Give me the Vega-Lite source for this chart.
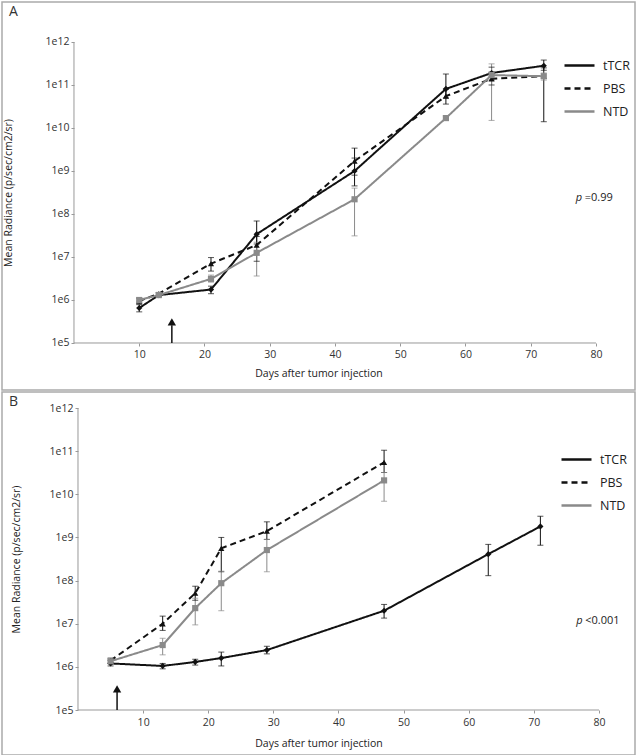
{
  "$schema": "https://vega.github.io/schema/vega-lite/v6.json",
  "padding": {"left": 1, "top": 1, "right": 1, "bottom": 1},
  "spacing": 0,
  "resolve": {
    "scale": {"color": "independent", "strokeDash": "independent", "shape": "independent", "fill": "independent", "stroke": "independent"},
    "legend": {"color": "independent", "strokeDash": "independent", "shape": "independent", "fill": "independent", "stroke": "independent"}
  },
  "config": {
    "font": "Open Sans",
    "view": {"stroke": "#aaaaaa", "strokeWidth": 1.5},
    "axis": {"labelFont": "Open Sans", "titleFont": "Open Sans", "labelFontSize": 10.5, "titleFontSize": 10.5, "titleFontWeight": "normal", "labelColor": "#333333", "titleColor": "#222222", "tickColor": "#999999", "tickSize": 3, "grid": false, "domain": false},
    "legend": {"labelFont": "Open Sans", "labelFontSize": 12.5, "labelColor": "#222222"},
    "title": {"font": "Open Sans", "fontSize": 14, "fontWeight": "normal", "color": "#333333"}
  },
  "vconcat": [
    {
      "width": 633,
      "height": 388,
      "title": {"text": "A", "anchor": "start", "frame": "group", "offset": -17, "dx": 7},
      "data": {"values": [
        {"group": "tTCR", "day": 10, "value": 650000, "lo": 530000, "hi": 780000},
        {"group": "tTCR", "day": 13, "value": 1300000, "lo": 1200000, "hi": 1450000},
        {"group": "tTCR", "day": 21, "value": 1750000, "lo": 1400000, "hi": 2100000},
        {"group": "tTCR", "day": 28, "value": 34000000, "lo": 20000000, "hi": 69000000},
        {"group": "tTCR", "day": 43, "value": 1000000000, "lo": 450000000, "hi": 2000000000},
        {"group": "tTCR", "day": 57, "value": 81000000000, "lo": 50000000000, "hi": 180000000000},
        {"group": "tTCR", "day": 64, "value": 190000000000, "lo": 130000000000, "hi": 260000000000},
        {"group": "tTCR", "day": 72, "value": 280000000000, "lo": 220000000000, "hi": 380000000000},
        {"group": "PBS", "day": 10, "value": 950000, "lo": 820000, "hi": 1100000},
        {"group": "PBS", "day": 13, "value": 1400000, "lo": 1300000, "hi": 1500000},
        {"group": "PBS", "day": 21, "value": 7000000, "lo": 4700000, "hi": 9700000},
        {"group": "PBS", "day": 28, "value": 19000000, "lo": 8000000, "hi": 30000000},
        {"group": "PBS", "day": 43, "value": 1700000000, "lo": 800000000, "hi": 3400000000},
        {"group": "PBS", "day": 57, "value": 55000000000, "lo": 36000000000, "hi": 80000000000},
        {"group": "PBS", "day": 64, "value": 140000000000, "lo": 100000000000, "hi": 200000000000},
        {"group": "PBS", "day": 72, "value": 160000000000, "lo": 14000000000, "hi": 250000000000},
        {"group": "NTD", "day": 10, "value": 1000000, "lo": 900000, "hi": 1100000},
        {"group": "NTD", "day": 13, "value": 1300000, "lo": 1200000, "hi": 1400000},
        {"group": "NTD", "day": 21, "value": 3100000, "lo": 2600000, "hi": 3800000},
        {"group": "NTD", "day": 28, "value": 12500000, "lo": 3600000, "hi": 22000000},
        {"group": "NTD", "day": 43, "value": 220000000, "lo": 31000000, "hi": 400000000},
        {"group": "NTD", "day": 57, "value": 17000000000, "lo": 15000000000, "hi": 19000000000},
        {"group": "NTD", "day": 64, "value": 170000000000, "lo": 15000000000, "hi": 310000000000},
        {"group": "NTD", "day": 72, "value": 160000000000, "lo": 130000000000, "hi": 190000000000}
      ]},
      "encoding": {
        "x": {"field": "day", "type": "quantitative", "scale": {"domain": [-11.03, 85.98], "nice": false, "zero": false},
              "axis": {"offset": -47, "values": [10, 20, 30, 40, 50, 60, 70, 80], "title": "Days after tumor injection", "titlePadding": 9, "labelPadding": 3}},
        "y": {"field": "value", "type": "quantitative", "scale": {"type": "log", "domain": [8072, 8510000000000], "nice": false},
              "axis": {"offset": -72, "values": [100000, 1000000, 10000000, 100000000, 1000000000, 10000000000, 100000000000, 1000000000000], "labelExpr": "'1e' + round(log(datum.value)/LN10)", "title": "Mean Radiance (p/sec/cm2/sr)", "titleX": -61, "titleY": 190.5}}
      },
      "layer": [
        {"data": {"values": [{"day": 0, "day2": 80, "value": 100000}]}, "mark": {"type": "rule", "color": "#999999", "strokeWidth": 1}, "encoding": {"x2": {"field": "day2"}}},
        {"data": {"values": [{"day": 0, "value": 100000, "value2": 1000000000000}]}, "mark": {"type": "rule", "color": "#999999", "strokeWidth": 1}, "encoding": {"y2": {"field": "value2"}}},
        {"mark": {"type": "rule", "strokeWidth": 1},
         "encoding": {
           "y": {"field": "lo", "type": "quantitative", "scale": {"type": "log", "domain": [8072, 8510000000000], "nice": false}, "axis": {"title": "Mean Radiance (p/sec/cm2/sr)"}},
           "y2": {"field": "hi"},
           "stroke": {"field": "group", "type": "nominal", "scale": {"domain": ["NTD", "PBS", "tTCR"], "range": ["#8a8a8a", "#111111", "#111111"]}, "legend": null}}},
        {"transform": [{"fold": ["lo", "hi"], "as": ["end", "v"]}],
         "mark": {"type": "tick", "orient": "horizontal", "size": 6, "thickness": 1},
         "encoding": {
           "y": {"field": "v", "type": "quantitative", "scale": {"type": "log", "domain": [8072, 8510000000000], "nice": false}, "axis": {"title": "Mean Radiance (p/sec/cm2/sr)"}},
           "fill": {"field": "group", "type": "nominal", "scale": {"domain": ["NTD", "PBS", "tTCR"], "range": ["#8a8a8a", "#111111", "#111111"]}, "legend": null}}},
        {"mark": {"type": "line", "strokeWidth": 2},
         "encoding": {
           "color": {"field": "group", "type": "nominal", "scale": {"domain": ["tTCR", "PBS", "NTD"], "range": ["#111111", "#111111", "#8a8a8a"]},
                     "legend": {"orient": "none", "legendX": 561, "legendY": 47, "title": null, "symbolType": "stroke", "symbolSize": 900, "symbolStrokeWidth": 2.5, "rowPadding": -14, "labelOffset": 7}},
           "strokeDash": {"field": "group", "type": "nominal", "scale": {"domain": ["tTCR", "PBS", "NTD"], "range": [[1, 0], [6, 4], [1, 0]]},
                          "legend": {"orient": "none", "legendX": 561, "legendY": 47, "title": null, "symbolType": "stroke", "symbolSize": 900, "symbolStrokeWidth": 2.5, "rowPadding": -14, "labelOffset": 7}}}},
        {"mark": {"type": "point", "filled": true, "size": 38, "opacity": 1},
         "encoding": {
           "shape": {"field": "group", "type": "nominal", "scale": {"domain": ["NTD", "PBS", "tTCR"], "range": ["square", "triangle-up", "diamond"]}, "legend": null},
           "fill": {"field": "group", "type": "nominal", "scale": {"domain": ["NTD", "PBS", "tTCR"], "range": ["#8a8a8a", "#111111", "#111111"]}, "legend": null}}},
        {"data": {"values": [{"day": 15, "value": 100000, "value2": 260000}]}, "mark": {"type": "rule", "color": "#111111", "strokeWidth": 1.5}, "encoding": {"y2": {"field": "value2"}}},
        {"data": {"values": [{"day": 15, "value": 310000}]}, "mark": {"type": "point", "shape": "triangle-up", "filled": true, "size": 70, "color": "#111111", "opacity": 1}, "encoding": {}},
        {"data": {"values": [{"day": 76.9, "value": 236000000, "label": "p"}]}, "mark": {"type": "text", "align": "left", "baseline": "middle", "fontStyle": "italic", "fontSize": 11, "color": "#222222"}, "encoding": {"text": {"field": "label"}}},
        {"data": {"values": [{"day": 76.9, "value": 236000000, "label": "=0.99"}]}, "mark": {"type": "text", "align": "left", "baseline": "middle", "dx": 9, "fontSize": 11, "color": "#222222"}, "encoding": {"text": {"field": "label"}}}
      ]
    },
    {
      "width": 633,
      "height": 363,
      "title": {"text": "B", "anchor": "start", "frame": "group", "offset": -17, "dx": 7},
      "data": {"values": [
        {"group": "tTCR", "day": 5, "value": 1200000, "lo": 1050000, "hi": 1400000},
        {"group": "tTCR", "day": 13, "value": 1050000, "lo": 900000, "hi": 1200000},
        {"group": "tTCR", "day": 18, "value": 1300000, "lo": 1100000, "hi": 1500000},
        {"group": "tTCR", "day": 22, "value": 1600000, "lo": 1050000, "hi": 2200000},
        {"group": "tTCR", "day": 29, "value": 2450000, "lo": 2000000, "hi": 3000000},
        {"group": "tTCR", "day": 47, "value": 20000000, "lo": 13500000, "hi": 28000000},
        {"group": "tTCR", "day": 63, "value": 410000000, "lo": 130000000, "hi": 690000000},
        {"group": "tTCR", "day": 71, "value": 1800000000, "lo": 660000000, "hi": 3100000000},
        {"group": "PBS", "day": 5, "value": 1400000, "lo": 1200000, "hi": 1600000},
        {"group": "PBS", "day": 13, "value": 10000000, "lo": 7000000, "hi": 15000000},
        {"group": "PBS", "day": 18, "value": 51000000, "lo": 35000000, "hi": 74000000},
        {"group": "PBS", "day": 22, "value": 560000000, "lo": 160000000, "hi": 1000000000},
        {"group": "PBS", "day": 29, "value": 1400000000, "lo": 900000000, "hi": 2300000000},
        {"group": "PBS", "day": 47, "value": 55000000000, "lo": 32000000000, "hi": 105000000000},
        {"group": "NTD", "day": 5, "value": 1350000, "lo": 1200000, "hi": 1500000},
        {"group": "NTD", "day": 13, "value": 3200000, "lo": 1900000, "hi": 4600000},
        {"group": "NTD", "day": 18, "value": 23000000, "lo": 9400000, "hi": 39000000},
        {"group": "NTD", "day": 22, "value": 87000000, "lo": 20000000, "hi": 165000000},
        {"group": "NTD", "day": 29, "value": 510000000, "lo": 160000000, "hi": 900000000},
        {"group": "NTD", "day": 47, "value": 21000000000, "lo": 6900000000, "hi": 32000000000}
      ]},
      "encoding": {
        "x": {"field": "day", "type": "quantitative", "scale": {"domain": [-11.67, 85.53], "nice": false, "zero": false},
              "axis": {"offset": -45, "values": [10, 20, 30, 40, 50, 60, 70, 80], "title": "Days after tumor injection", "titlePadding": 11, "labelPadding": 4}},
        "y": {"field": "value", "type": "quantitative", "scale": {"type": "log", "domain": [9057, 2350000000000], "nice": false},
              "axis": {"offset": -76, "values": [100000, 1000000, 10000000, 100000000, 1000000000, 10000000000, 100000000000, 1000000000000], "labelExpr": "'1e' + round(log(datum.value)/LN10)", "title": "Mean Radiance (p/sec/cm2/sr)", "titleX": -57, "titleY": 167}}
      },
      "layer": [
        {"data": {"values": [{"day": 0, "day2": 80, "value": 100000}]}, "mark": {"type": "rule", "color": "#999999", "strokeWidth": 1}, "encoding": {"x2": {"field": "day2"}}},
        {"data": {"values": [{"day": 0, "value": 100000, "value2": 1000000000000}]}, "mark": {"type": "rule", "color": "#999999", "strokeWidth": 1}, "encoding": {"y2": {"field": "value2"}}},
        {"mark": {"type": "rule", "strokeWidth": 1},
         "encoding": {
           "y": {"field": "lo", "type": "quantitative", "scale": {"type": "log", "domain": [9057, 2350000000000], "nice": false}, "axis": {"title": "Mean Radiance (p/sec/cm2/sr)"}},
           "y2": {"field": "hi"},
           "stroke": {"field": "group", "type": "nominal", "scale": {"domain": ["NTD", "PBS", "tTCR"], "range": ["#8a8a8a", "#111111", "#111111"]}, "legend": null}}},
        {"transform": [{"fold": ["lo", "hi"], "as": ["end", "v"]}],
         "mark": {"type": "tick", "orient": "horizontal", "size": 6, "thickness": 1},
         "encoding": {
           "y": {"field": "v", "type": "quantitative", "scale": {"type": "log", "domain": [9057, 2350000000000], "nice": false}, "axis": {"title": "Mean Radiance (p/sec/cm2/sr)"}},
           "fill": {"field": "group", "type": "nominal", "scale": {"domain": ["NTD", "PBS", "tTCR"], "range": ["#8a8a8a", "#111111", "#111111"]}, "legend": null}}},
        {"mark": {"type": "line", "strokeWidth": 2},
         "encoding": {
           "color": {"field": "group", "type": "nominal", "scale": {"domain": ["tTCR", "PBS", "NTD"], "range": ["#111111", "#111111", "#8a8a8a"]},
                     "legend": {"orient": "none", "legendX": 558, "legendY": 51, "title": null, "symbolType": "stroke", "symbolSize": 900, "symbolStrokeWidth": 2.5, "rowPadding": -14, "labelOffset": 7}},
           "strokeDash": {"field": "group", "type": "nominal", "scale": {"domain": ["tTCR", "PBS", "NTD"], "range": [[1, 0], [6, 4], [1, 0]]},
                          "legend": {"orient": "none", "legendX": 558, "legendY": 51, "title": null, "symbolType": "stroke", "symbolSize": 900, "symbolStrokeWidth": 2.5, "rowPadding": -14, "labelOffset": 7}}}},
        {"mark": {"type": "point", "filled": true, "size": 38, "opacity": 1},
         "encoding": {
           "shape": {"field": "group", "type": "nominal", "scale": {"domain": ["NTD", "PBS", "tTCR"], "range": ["square", "triangle-up", "diamond"]}, "legend": null},
           "fill": {"field": "group", "type": "nominal", "scale": {"domain": ["NTD", "PBS", "tTCR"], "range": ["#8a8a8a", "#111111", "#111111"]}, "legend": null}}},
        {"data": {"values": [{"day": 6, "value": 100000, "value2": 260000}]}, "mark": {"type": "rule", "color": "#111111", "strokeWidth": 1.5}, "encoding": {"y2": {"field": "value2"}}},
        {"data": {"values": [{"day": 6, "value": 310000}]}, "mark": {"type": "point", "shape": "triangle-up", "filled": true, "size": 70, "color": "#111111", "opacity": 1}, "encoding": {}},
        {"data": {"values": [{"day": 76.5, "value": 11600000, "label": "p"}]}, "mark": {"type": "text", "align": "left", "baseline": "middle", "fontStyle": "italic", "fontSize": 11, "color": "#222222"}, "encoding": {"text": {"field": "label"}}},
        {"data": {"values": [{"day": 76.5, "value": 11600000, "label": "<0.001"}]}, "mark": {"type": "text", "align": "left", "baseline": "middle", "dx": 9, "fontSize": 11, "color": "#222222"}, "encoding": {"text": {"field": "label"}}}
      ]
    }
  ]
}
